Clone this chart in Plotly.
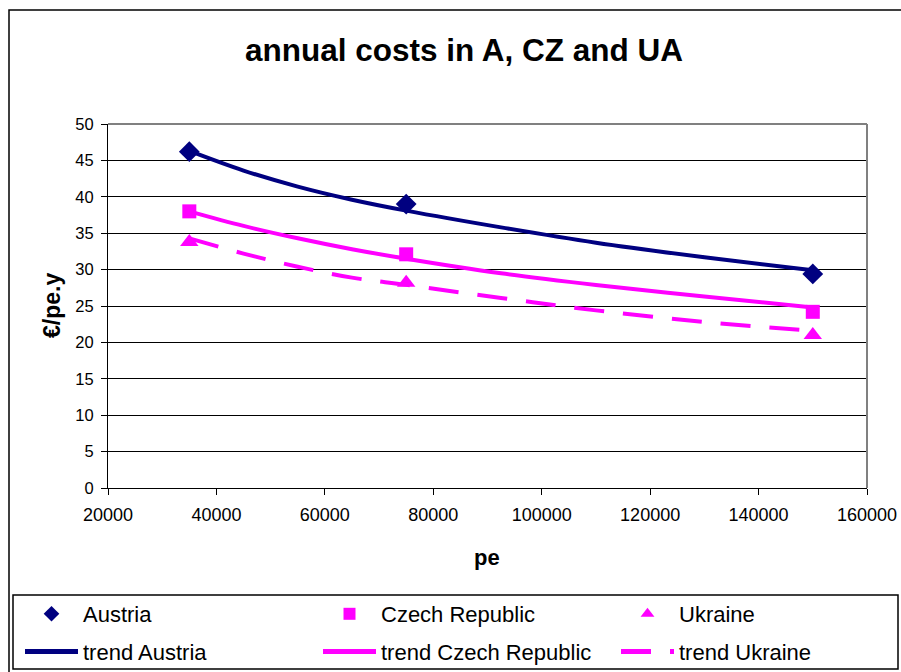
import plotly.graph_objects as go

# ---- data ----
pe_points = [35000, 75000, 150000]
austria = [46.2, 39.0, 29.4]
czech = [38.0, 32.1, 24.2]
ukraine = [33.8, 28.2, 21.0]

pe_trend = [35000, 45000, 55000, 65000, 75000, 92500, 110000, 130000, 150000]
trend_austria = [46.3, 43.6, 41.4, 39.6, 38.1, 35.8, 33.7, 31.7, 29.9]
trend_czech = [38.0, 36.0, 34.3, 32.8, 31.5, 29.5, 27.9, 26.3, 24.8]
trend_ukraine = [34.3, 32.2, 30.4, 28.9, 27.9, 26.1, 24.4, 22.8, 21.6]

x_ticks = [20000, 40000, 60000, 80000, 100000, 120000, 140000, 160000]
y_ticks = [0, 5, 10, 15, 20, 25, 30, 35, 40, 45, 50]

NAVY = "#000080"
MAGENTA = "#FF00FF"
FONT = "Liberation Sans, Arial, sans-serif"

# plot-area pixel geometry (for paper-coordinate conversion of decorations)
L, R, T, B = 108, 867, 124, 488
W, H = R - L, B - T


def px(xp):
    return (xp - L) / W


def py(yp):
    return (B - yp) / H


fig = go.Figure()

fig.add_trace(go.Scatter(x=pe_points, y=austria, mode="markers", name="Austria",
                         legend="legend", legendgroup="a1",
                         marker=dict(symbol="diamond", size=16, color=NAVY)))
fig.add_trace(go.Scatter(x=pe_points, y=czech, mode="markers", name="Czech Republic",
                         legend="legend2", legendgroup="c1",
                         marker=dict(symbol="square", size=14, color=MAGENTA)))
fig.add_trace(go.Scatter(x=pe_points, y=ukraine, mode="markers", name="Ukraine",
                         legend="legend3", legendgroup="u1",
                         marker=dict(symbol="triangle-up", size=16, color=MAGENTA)))
fig.add_trace(go.Scatter(x=pe_trend, y=trend_austria, mode="lines", name="trend Austria",
                         legend="legend", legendgroup="a2",
                         line=dict(color=NAVY, width=4, shape="spline")))
fig.add_trace(go.Scatter(x=pe_trend, y=trend_czech, mode="lines", name="trend Czech Republic",
                         legend="legend2", legendgroup="c2",
                         line=dict(color=MAGENTA, width=4, shape="spline")))
fig.add_trace(go.Scatter(x=pe_trend, y=trend_ukraine, mode="lines", name="trend Ukraine",
                         legend="legend3", legendgroup="u2",
                         line=dict(color=MAGENTA, width=4, shape="spline", dash="30px,19px")))


def leg(xpix):
    return dict(orientation="v", xref="container", yref="container",
                x=xpix / 901, xanchor="left", y=1 - 593 / 672, yanchor="top",
                itemwidth=53, tracegroupgap=6, borderwidth=0, bgcolor="rgba(0,0,0,0)",
                font=dict(size=22, family=FONT, color="black"),
                traceorder="grouped", itemsizing="constant")


fig.update_layout(
    width=901, height=672,
    margin=dict(l=L, r=901 - R, t=T, b=672 - B, autoexpand=False),
    paper_bgcolor="white", plot_bgcolor="white",
    font=dict(family=FONT, color="black", size=17),
    title=dict(text="<b>annual costs in A, CZ and UA</b>", x=464 / 901, xanchor="center",
               y=1 - 50 / 672, yanchor="middle", xref="container", yref="container",
               font=dict(size=31.5, family=FONT, color="black")),
    showlegend=True,
    legend=leg(20),
    legend2=leg(318),
    legend3=leg(616),
    xaxis=dict(range=[20000, 160000], tickvals=x_ticks,
               ticktext=[str(v) for v in x_ticks], automargin=False,
               showgrid=False, zeroline=False, showline=True, linecolor="black", linewidth=1,
               ticks="outside", ticklen=6, tickcolor="black",
               tickfont=dict(size=18, family=FONT), ticklabelstandoff=4),
    yaxis=dict(range=[0, 50], tickvals=y_ticks, automargin=False,
               showgrid=True, gridcolor="black", gridwidth=1, zeroline=False,
               showline=True, linecolor="black", linewidth=1,
               ticks="outside", ticklen=6, tickcolor="black",
               tickfont=dict(size=16.5, family=FONT), ticklabelstandoff=4),
    annotations=[
        dict(text="<b>€/pe.y</b>", xref="paper", yref="paper", x=px(52), y=py(306),
             xanchor="center", yanchor="middle", textangle=-90, showarrow=False,
             font=dict(size=23, family=FONT, color="black")),
        dict(text="<b>pe</b>", xref="paper", yref="paper", x=px(487), y=py(557),
             xanchor="center", yanchor="middle", showarrow=False,
             font=dict(size=22, family=FONT, color="black")),
    ],
    shapes=[
        # grey border on top/right of plot area
        dict(type="line", xref="paper", yref="paper", x0=0, x1=1, y0=1, y1=1,
             line=dict(color="#808080", width=2)),
        dict(type="line", xref="paper", yref="paper", x0=1, x1=1, y0=0, y1=1,
             line=dict(color="#808080", width=2)),
        # outer chart border
        dict(type="rect", xref="paper", yref="paper",
             x0=px(9), x1=px(915), y0=py(690), y1=py(10),
             line=dict(color="black", width=1.5), layer="below"),
        # legend box
        dict(type="rect", xref="paper", yref="paper",
             x0=px(13), x1=px(898), y0=py(669), y1=py(595),
             line=dict(color="black", width=1.5), layer="below"),
    ],
)

fig.write_html("out.html", config={"displayModeBar": False},
               post_script="document.body.style.margin='0';document.body.style.padding='0';")
